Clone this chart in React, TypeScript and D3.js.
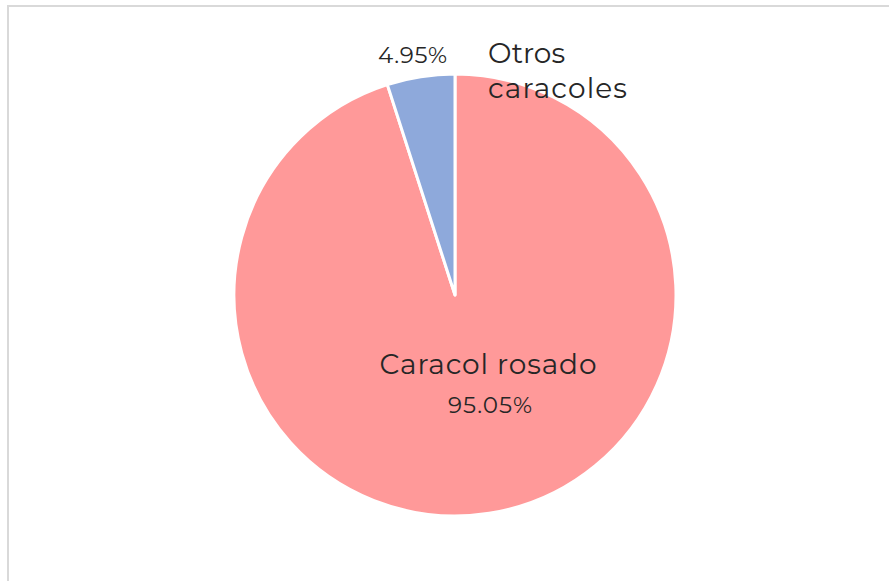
import React, { useEffect, useRef } from "react";
import * as d3 from "d3";

// slice data, clockwise from 12 o'clock
const categories = ["Caracol rosado", "Otros caracoles"];
const shares = [95.05, 4.95];
const percentLabels = ["95.05%", "4.95%"];
const colors = ["#FF9999", "#8EA9DB"];

const App: React.FC = () => {
  const svgRef = useRef<SVGSVGElement | null>(null);

  const width = 889;
  const height = 581;
  const cx = 455;
  const cy = 295;
  const radius = 221;

  useEffect(() => {
    if (!svgRef.current) return;
    const svg = d3.select(svgRef.current);
    svg.selectAll("*").remove();

    // chart frame (cut off on the right and bottom)
    svg.append("rect")
      .attr("x", 8)
      .attr("y", 6)
      .attr("width", width + 20)
      .attr("height", height + 20)
      .attr("fill", "#fff")
      .attr("stroke", "#d9d9d9")
      .attr("stroke-width", 2);

    const pie = d3.pie<number>().sort(null).value((d) => d);
    const arcs = pie(shares);
    const arc = d3.arc<d3.PieArcDatum<number>>().innerRadius(0).outerRadius(radius);

    const g = svg.append("g").attr("transform", `translate(${cx},${cy})`);

    g.selectAll("path")
      .data(arcs)
      .enter()
      .append("path")
      .attr("d", arc)
      .attr("fill", (_d, i) => colors[i])
      .attr("stroke", "#fff")
      .attr("stroke-width", 3)
      .attr("stroke-linejoin", "round");

    const font = "Montserrat, 'DejaVu Sans', sans-serif";
    const textColor = "#262626";

    // big slice label, inside
    const big = g.append("text")
      .attr("font-family", font)
      .attr("fill", textColor)
      .attr("text-anchor", "middle");
    big.append("tspan")
      .attr("x", 33)
      .attr("y", 79)
      .attr("font-size", 28)
      .attr("textLength", 217)
      .text(categories[0]);
    big.append("tspan")
      .attr("x", 35)
      .attr("y", 118)
      .attr("font-size", 23)
      .attr("textLength", 84)
      .text(percentLabels[0]);

    // small slice label, outside the top
    g.append("text")
      .attr("x", -8)
      .attr("y", -232)
      .attr("text-anchor", "end")
      .attr("font-family", font)
      .attr("font-size", 23)
      .attr("fill", textColor)
      .attr("textLength", 69)
      .text(percentLabels[1]);

    const [w1, w2] = categories[1].split(" ");
    const small = g.append("text")
      .attr("font-family", font)
      .attr("font-size", 28)
      .attr("fill", textColor);
    small.append("tspan").attr("x", 33).attr("y", -232).text(w1);
    small.append("tspan").attr("x", 33).attr("y", -197).attr("textLength", 139).text(w2);
  }, []);

  return (
    <svg
      ref={svgRef}
      width={width}
      height={height}
      style={{ display: "block", position: "absolute", left: 0, top: 0 }}
    />
  );
};

export default App;
